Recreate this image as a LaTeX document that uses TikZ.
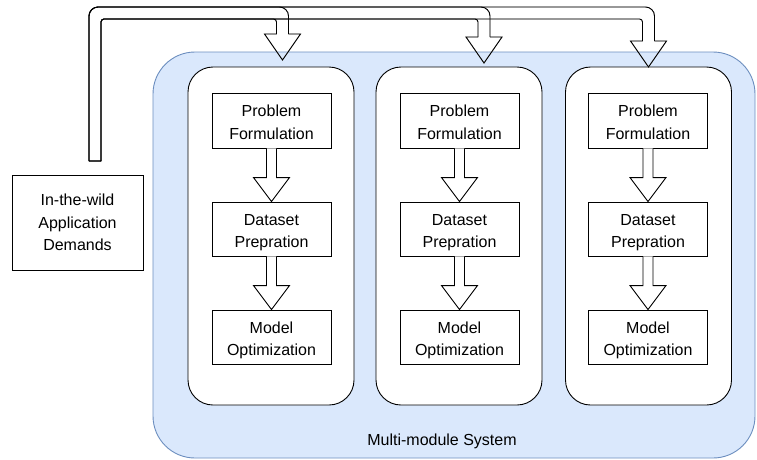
\documentclass[tikz,border=0pt]{standalone}
\usepackage{fontspec}
\setmainfont{Liberation Sans}
\usetikzlibrary{calc}
\definecolor{bluefill}{HTML}{DAE8FC}
\definecolor{blueline}{HTML}{6C8EBF}
\newcommand{\twolines}[2]{\raisebox{-3pt}[\height][\depth]{\begin{tabular}{@{}c@{}}#1\\#2\end{tabular}}}
\newcommand{\blockarrow}[2]{%
  \draw[fill=white] let \p1=(#1.south), \p2=(#2.north) in
    (\x1-5pt,\y1) -- (\x1-5pt,\y2+24pt) -- (\x1-18pt,\y2+24pt) -- (\x1,\y2)
    -- (\x1+18pt,\y2+24pt) -- (\x1+5pt,\y2+24pt) -- (\x1+5pt,\y1);}
\newcommand{\flexarrow}[2]{%
  \draw[rounded corners=9pt,#2] let \p1=(src), \p2=(#1), \p3=(ytop) in
    (\x1-6pt,\y1) -- (\x1-6pt,\y3+6pt) -- (\x2+6pt,\y3+6pt) -- (\x2+6pt,\y2+26pt);
  \draw[rounded corners=3pt,#2] let \p1=(src), \p2=(#1), \p3=(ytop) in
    (\x1+6pt,\y1) -- (\x1+6pt,\y3-6pt) -- (\x2-6pt,\y3-6pt) -- (\x2-6pt,\y2+26pt);
  \draw[#2] let \p1=(src), \p2=(#1) in
    (\x2-6pt,\y2+26pt) -- (\x2-18pt,\y2+26pt) -- (\x2,\y2) -- (\x2+18pt,\y2+26pt) -- (\x2+6pt,\y2+26pt)
    (\x1-6pt,\y1) -- (\x1+6pt,\y1);}
\begin{document}
\begin{tikzpicture}[x=1pt,y=-1pt,line width=0.9pt,
  txt/.style={font=\fontsize{16pt}{22.5pt}\selectfont},
  stepbox/.style={draw,rectangle,fill=white,minimum width=119pt,minimum height=54pt,
    align=center,inner sep=0pt,txt},
  module/.style={draw,rounded corners=25pt,fill=white,minimum width=166pt,minimum height=338pt,inner sep=0pt},
  shadowline/.style={draw=black!22,line width=0.9pt}]
\useasboundingbox (0,0) rectangle (757,459);
% system container
\node[draw=blueline,fill=bluefill,rounded corners=42pt,minimum width=602pt,minimum height=406pt,inner sep=0pt]
  (sys) at (454,255) {};
\node[txt,anchor=base] (syslabel) at (442,445) {Multi-module System};
% modules
\node[module] (m1) at (271,236) {};
\node[module] (m2) at (459,236) {};
\node[module] (m3) at (648.5,236) {};
% inner steps
\foreach \i/\x in {1/271.5,2/459.5,3/648}{
  \node[stepbox,minimum height=55pt] (p\i) at (\x,120.5) {\twolines{Problem}{Formulation}};
  \node[stepbox] (d\i) at (\x,229) {\twolines{Dataset}{Prepration}};
  \node[stepbox] (o\i) at (\x,337) {\twolines{Model}{Optimization}};
  \blockarrow{p\i}{d\i}
  \blockarrow{d\i}{o\i}
}
% source box
\node[draw,fill=white,minimum width=131pt,minimum height=95pt,align=center,inner sep=0pt,txt]
  (wild) at (77.5,222.5) {In-the-wild\\Application\\Demands};
% flex arrows
\coordinate (src) at (95,161);
\coordinate (ytop) at (0,13);
\coordinate (t1) at (282.5,60);
\coordinate (t2) at (484,63);
\coordinate (t3) at (648.5,67);
\begin{scope}[shift={(1.6,1.6)}]
  \flexarrow{t1}{shadowline}
  \flexarrow{t2}{shadowline}
  \flexarrow{t3}{shadowline}
\end{scope}
\flexarrow{t1}{draw=black}
\flexarrow{t2}{draw=black}
\flexarrow{t3}{draw=black}
\end{tikzpicture}
\end{document}
